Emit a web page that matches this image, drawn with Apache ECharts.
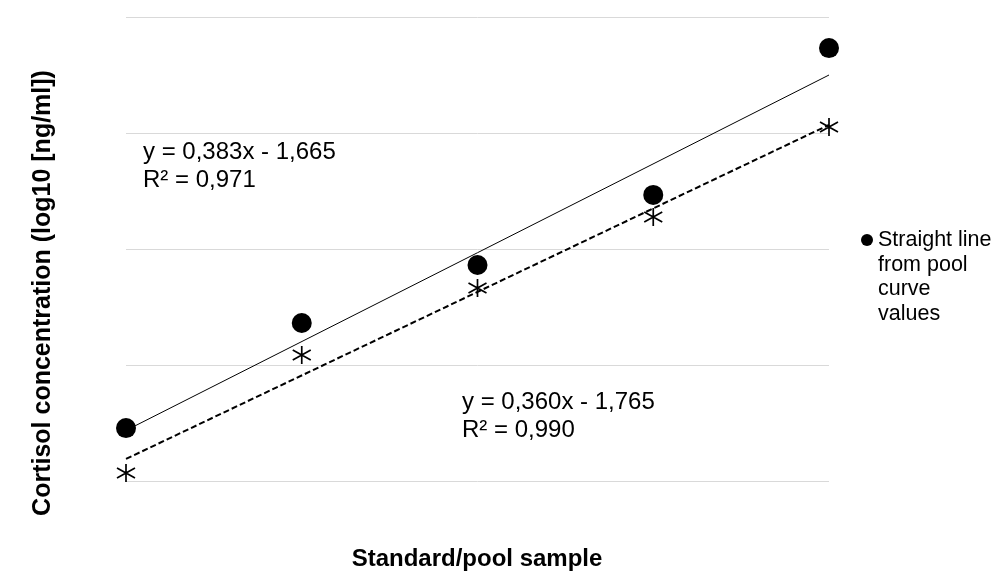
<!DOCTYPE html>
<html>
<head>
<meta charset="utf-8">
<script src="https://cdn.jsdelivr.net/npm/echarts@6/dist/echarts.min.js"></script>
<style>html,body{margin:0;padding:0;background:#fff;}#chart{width:997px;height:574px;}</style>
</head>
<body>
<div id="chart"></div>
<script>
// Data
var xValues = [1, 2, 3, 4, 5];
var standardValues = [-1.272, -0.819, -0.569, -0.267, 0.366];   // filled circles
var poolValues = [-1.466, -0.957, -0.668, -0.362, 0.026];       // asterisks
var trendX = [1, 5];
var trendStandardY = [-1.282, 0.250];  // y = 0,383x - 1,665
var trendPoolY = [-1.405, 0.035];      // y = 0,360x - 1,765
var legendName = 'Straight line from pool curve values';
var legendLines = 'Straight line\nfrom pool\ncurve\nvalues';
var eqStandard = 'y = 0,383x - 1,665\nR² = 0,971';
var eqPool = 'y = 0,360x - 1,765\nR² = 0,990';
var xTitle = 'Standard/pool sample';
var yTitle = 'Cortisol concentration (log10 [ng/ml])';

function pairs(xs, ys) { return xs.map(function (x, i) { return [x, ys[i]]; }); }

var FONT = "'Liberation Sans', Arial, sans-serif";
var chart = echarts.init(document.getElementById('chart'));
chart.setOption({
  animation: false,
  backgroundColor: '#ffffff',
  textStyle: { fontFamily: FONT },
  grid: { left: 126, right: 168, top: 17, bottom: 93 },
  xAxis: {
    type: 'value', min: 1, max: 5,
    axisLine: { show: false }, axisTick: { show: false },
    axisLabel: { show: false }, splitLine: { show: false }
  },
  yAxis: {
    type: 'value', min: -1.5, max: 0.5, interval: 0.5,
    axisLine: { show: false }, axisTick: { show: false },
    axisLabel: { show: false },
    splitLine: { show: true, lineStyle: { color: '#d9d9d9', width: 1 } }
  },
  legend: {
    data: [{ name: legendName, icon: 'none' }],
    left: 861, top: 228, padding: 0,
    orient: 'vertical',
    itemWidth: 12, itemHeight: 12,
    formatter: function () { return legendLines; },
    textStyle: { fontSize: 21.5, color: '#000', lineHeight: 24.5, fontFamily: FONT }
  },
  series: [
    {
      name: 'trendStandard', type: 'line', data: pairs(trendX, trendStandardY),
      symbol: 'none', lineStyle: { color: '#000', width: 1 }, z: 2, silent: true
    },
    {
      name: 'trendPool', type: 'line', data: pairs(trendX, trendPoolY),
      symbol: 'none', lineStyle: { color: '#000', width: 2, type: [6, 3] }, z: 2, silent: true
    },
    {
      name: legendName, type: 'scatter', data: pairs(xValues, standardValues),
      symbol: 'circle', symbolSize: 20, itemStyle: { color: '#000', opacity: 1 }, z: 3
    },
    {
      name: 'pool', type: 'scatter', data: pairs(xValues, poolValues),
      symbol: 'path://M9,0L9,18M0,4L18,14M0,14L18,4', symbolSize: 18,
      itemStyle: { color: 'rgba(0,0,0,0)', borderColor: '#000', borderWidth: 1.7, opacity: 1 }, z: 4
    }
  ],
  graphic: [
    { type: 'circle', shape: { cx: 867, cy: 240, r: 6 }, style: { fill: '#000' } },
    { type: 'text', left: 143, top: 138, style: { text: eqStandard, font: '24px ' + FONT, lineHeight: 28, fill: '#000' } },
    { type: 'text', left: 462, top: 388, style: { text: eqPool, font: '24px ' + FONT, lineHeight: 28, fill: '#000' } },
    { type: 'text', x: 477, y: 559, style: { text: xTitle, font: 'bold 24px ' + FONT, fill: '#000', align: 'center', verticalAlign: 'middle' } },
    { type: 'text', x: 43, y: 293, rotation: Math.PI / 2, style: { text: yTitle, font: 'bold 25px ' + FONT, fill: '#000', align: 'center', verticalAlign: 'middle' } }
  ]
});
</script>
</body>
</html>
